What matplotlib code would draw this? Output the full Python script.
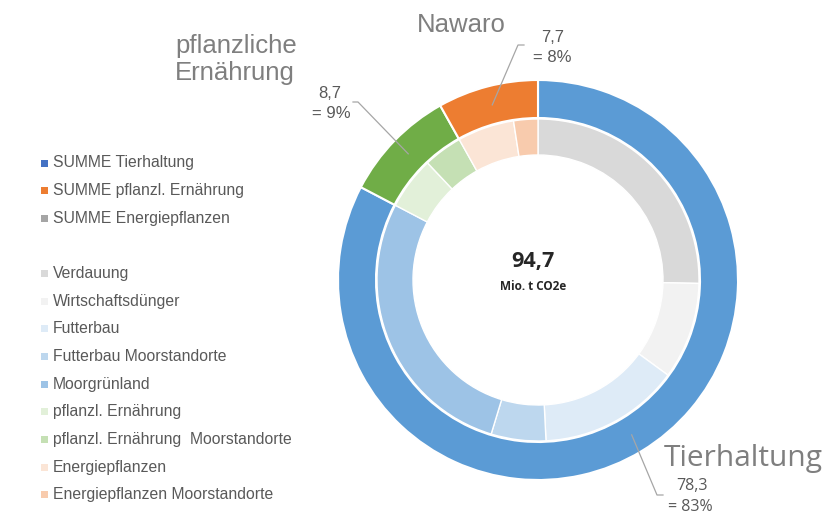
import numpy as np
import matplotlib
matplotlib.use("Agg")
import matplotlib.pyplot as plt
from matplotlib.patches import Rectangle

# ---- data ----
outer_labels = ["Tierhaltung", "pflanzliche Ernährung", "Nawaro"]
outer_values = [78.3, 8.7, 7.7]
outer_colors = ["#5B9BD5", "#70AD47", "#ED7D31"]
outer_pct = ["83%", "9%", "8%"]

inner_labels = ["Verdauung", "Wirtschaftsdünger", "Futterbau", "Futterbau Moorstandorte",
                "Moorgrünland", "pflanzl. Ernährung", "pflanzl. Ernährung  Moorstandorte",
                "Energiepflanzen", "Energiepflanzen Moorstandorte"]
inner_values = [24.0, 9.2, 13.4, 5.2, 26.5, 5.0, 3.7, 5.4, 2.3]
inner_colors = ["#D9D9D9", "#F2F2F2", "#DEEBF7", "#BDD7EE", "#9DC3E6",
                "#E2F0D9", "#C5E0B4", "#FBE5D6", "#F8CBAD"]

sum_labels = ["SUMME Tierhaltung", "SUMME pflanzl. Ernährung", "SUMME Energiepflanzen"]
sum_colors = ["#4472C4", "#ED7D31", "#A5A5A5"]

total_text = "94,7"
unit_text = "Mio. t CO2e"

W, H = 825, 514
fig = plt.figure(figsize=(W / 100, H / 100), dpi=100)
ax = fig.add_axes([0, 0, 1, 1])

def Y(y):
    return H - y

cx, cy = 538, 280
R_out, w_out = 200, 38
R_in, w_in = 161, 36

ax.pie(outer_values, colors=outer_colors, radius=R_out, center=(cx, Y(cy)),
       startangle=90, counterclock=False,
       wedgeprops=dict(width=w_out, edgecolor="white", linewidth=1.5))
ax.pie(inner_values, colors=inner_colors, radius=R_in, center=(cx, Y(cy)),
       startangle=90, counterclock=False,
       wedgeprops=dict(width=w_in, edgecolor="white", linewidth=1.0))

ax.set_xlim(0, W)
ax.set_ylim(0, H)
ax.set_aspect("equal")
ax.axis("off")

txt_col = "#595959"
lab_col = "#7F7F7F"
lead_col = "#A6A6A6"
arial = "Liberation Sans"
segoe = "Open Sans"

# centre text
ax.text(533, Y(261), total_text, ha="center", va="center", fontsize=15.5,
        fontweight="bold", family=segoe, color="#262626")
ax.text(533, Y(287), unit_text, ha="center", va="center", fontsize=8.5,
        fontweight="bold", family=segoe, color="#262626")

# category labels
ax.text(175, Y(53), "pflanzliche", ha="left", va="baseline", fontsize=18.5,
        family=arial, color=lab_col)
ax.text(175, Y(80), "Ernährung", ha="left", va="baseline", fontsize=18.5,
        family=arial, color=lab_col)
ax.text(417, Y(32), "Nawaro", ha="left", va="baseline", fontsize=18.5,
        family=arial, color=lab_col)
ax.text(664, Y(466), "Tierhaltung", ha="left", va="baseline", fontsize=21.5,
        family=segoe, color=lab_col)

# value labels with leader lines
total = sum(outer_values)
cum = 0.0
mids = []
for v in outer_values:
    mid = 90 - 360 * (cum + v / 2) / total
    mids.append(np.deg2rad(mid))
    cum += v

def fmt(v):
    return f"{v:.1f}".replace(".", ",")

r_mid = R_out - w_out / 2
# Tierhaltung
a = mids[0]
sx, sy = cx + r_mid * np.cos(a), Y(cy) + r_mid * np.sin(a)
ax.plot([sx, 657, 663], [sy, Y(495), Y(495)], color=lead_col, lw=0.9)
ax.text(692, Y(486), fmt(outer_values[0]), ha="center", va="center",
        fontsize=11.5, family=segoe, color=txt_col)
ax.text(690, Y(507), "= " + outer_pct[0], ha="center", va="center",
        fontsize=11.5, family=segoe, color=txt_col)
# pflanzliche Ernährung
a = mids[1]
sx, sy = cx + r_mid * np.cos(a), Y(cy) + r_mid * np.sin(a)
ax.plot([sx, 358, 353], [sy, Y(102), Y(102)], color=lead_col, lw=0.9)
ax.text(330, Y(94), fmt(outer_values[1]), ha="center", va="center",
        fontsize=12, family=arial, color=txt_col)
ax.text(331, Y(113), "= " + outer_pct[1], ha="center", va="center",
        fontsize=12, family=arial, color=txt_col)
# Nawaro
a = mids[2]
sx, sy = cx + r_mid * np.cos(a), Y(cy) + r_mid * np.sin(a)
ax.plot([sx, 518, 524], [sy, Y(45), Y(45)], color=lead_col, lw=0.9)
ax.text(553, Y(37), fmt(outer_values[2]), ha="center", va="center",
        fontsize=12, family=arial, color=txt_col)
ax.text(552, Y(57), "= " + outer_pct[2], ha="center", va="center",
        fontsize=12, family=arial, color=txt_col)

# legend (manual)
def legend_row(y, label, color):
    ax.add_patch(Rectangle((41, Y(y) - 3.5), 7, 7, facecolor=color, edgecolor="none"))
    ax.text(53, Y(y), label, ha="left", va="center", fontsize=11.3,
            family=arial, color=txt_col)

y0 = 163
for i, (lab, col) in enumerate(zip(sum_labels, sum_colors)):
    legend_row(y0 + i * 27.5, lab, col)
y1 = 273.5
for i, (lab, col) in enumerate(zip(inner_labels, inner_colors)):
    legend_row(y1 + i * 27.65, lab, col)

fig.savefig("out.png", dpi=100)
